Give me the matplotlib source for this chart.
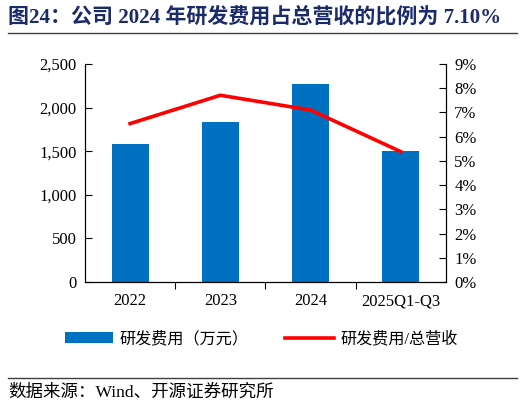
import matplotlib
matplotlib.use('Agg')
import matplotlib.pyplot as plt
from matplotlib.ticker import FuncFormatter, FixedLocator

plt.rcParams['font.family'] = ['Liberation Serif', 'Noto Sans CJK SC']

# data
years = ['2022', '2023', '2024', '2025Q1-Q3']
rd_cost = [1586, 1831, 2267, 1502]          # 万元
rd_ratio = [6.54, 7.71, 7.10, 5.38]         # %

bar_color = '#0070C0'
line_color = '#FF0000'

fig = plt.figure(figsize=(5.22, 4.08), dpi=100)
ax = fig.add_axes([0.1628, 0.3088, 0.6916, 0.5343])
ax2 = ax.twinx()

x = list(range(len(years)))
bars = ax.bar(x, rd_cost, width=0.41, color=bar_color, zorder=2, label='研发费用（万元）')
line, = ax2.plot(x, rd_ratio, color=line_color, lw=2.6, label='研发费用/总营收')

ax.set_xlim(-0.5, 3.5)
ax.set_ylim(0, 2500)
ax.set_yticks(range(0, 2501, 500))
ax.yaxis.set_major_formatter(FuncFormatter(lambda v, p: f'{int(v):,}'))
ax2.set_ylim(0, 9)
ax2.set_yticks(range(0, 10))
ax2.yaxis.set_major_formatter(FuncFormatter(lambda v, p: f'{int(v)}%'))

ax.set_xticks(x)
ax.set_xticklabels(years)
ax.xaxis.set_minor_locator(FixedLocator([0.5, 1.5, 2.5]))
ax.tick_params(axis='x', which='major', length=0, labelsize=12, pad=8)
ax.tick_params(axis='x', which='minor', length=5, direction='out', width=0.8)
ax.tick_params(axis='y', direction='in', length=5, labelsize=12, width=0.8, pad=6)
ax2.tick_params(axis='y', direction='in', length=5, labelsize=12, width=0.8, pad=6)

for a in (ax, ax2):
    a.spines['top'].set_visible(False)
    for s in ('left', 'right', 'bottom'):
        a.spines[s].set_linewidth(0.8)

# title and rules
fig.text(0.015, 0.958, '图24：公司 2024 年研发费用占总营收的比例为 7.10%', fontsize=15.1,
         fontweight='bold', color='#1b2a6b', va='center', ha='left')
fig.add_artist(plt.Line2D([0.015, 0.99], [0.918, 0.918], color='#404040', lw=1))
fig.add_artist(plt.Line2D([0.015, 0.99], [0.073, 0.073], color='#404040', lw=1))

fig.legend([bars, line], ['研发费用（万元）', '研发费用/总营收'], loc='center',
           bbox_to_anchor=(0.5, 0.168), ncol=2, frameon=False, fontsize=11.6,
           handlelength=3, columnspacing=2.3, handletextpad=0.4)

fig.text(0.015, 0.038, '数据来源：Wind、开源证券研究所', fontsize=12.6, va='center', ha='left')

plt.savefig('out.png', dpi=100)
